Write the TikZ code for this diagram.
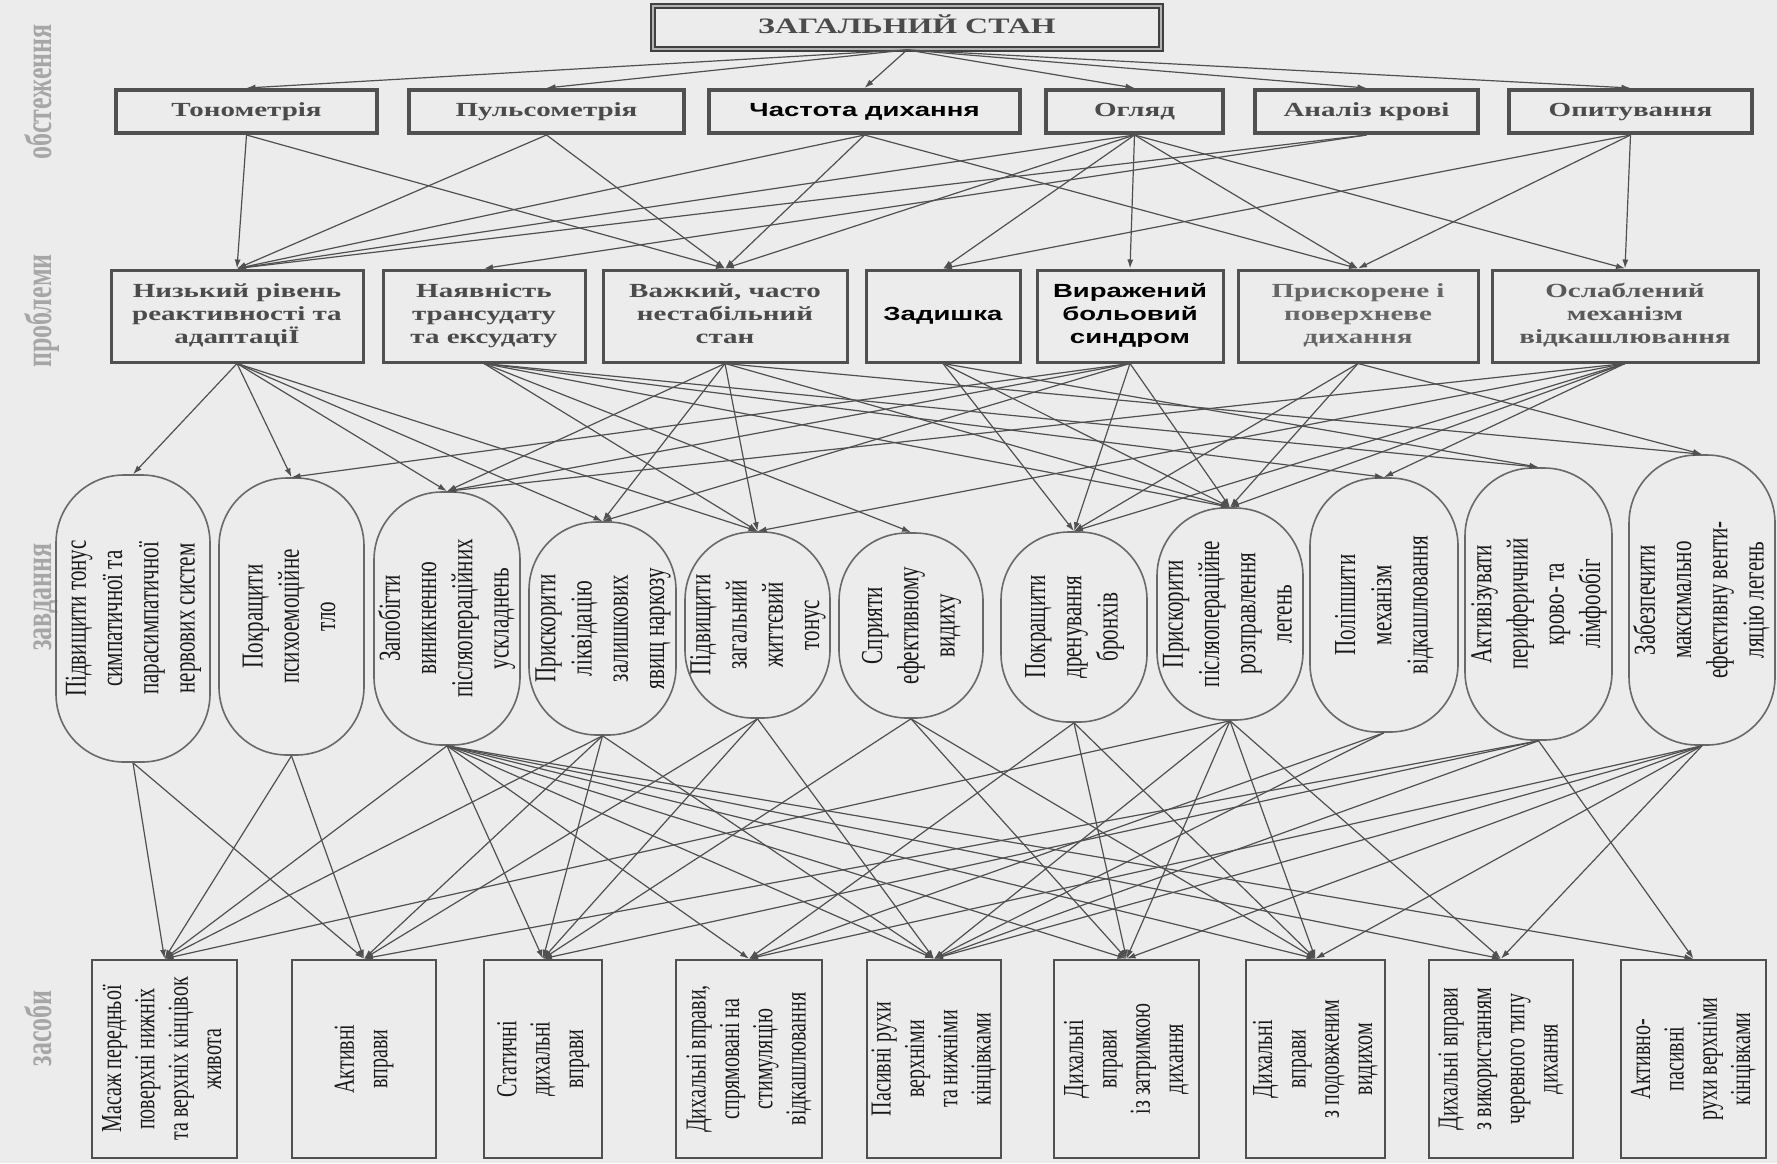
\documentclass[tikz,border=0pt]{standalone}
\usepackage{graphicx}
\usepackage{fontspec}
\setmainfont{Liberation Serif}
\newfontfamily\sansb{Liberation Sans}
\usetikzlibrary{arrows.meta}
\definecolor{bgc}{RGB}{236,236,236}
\definecolor{lnc}{RGB}{80,80,80}
\definecolor{txc}{RGB}{75,75,75}
\definecolor{bdc}{RGB}{80,80,80}
\definecolor{stc}{RGB}{105,105,105}
\newcommand\hst[1]{\scalebox{1.45}[1]{\begin{tabular}{@{}c@{}}#1\end{tabular}}}
\newcommand\vst[1]{\rotatebox{90}{\scalebox{1}[1.45]{\begin{tabular}{@{}c@{}}#1\end{tabular}}}}
\begin{document}
\begin{tikzpicture}[x=0.5pt,y=-0.5pt,
 titbox/.style={draw=black!75, line width=0.9pt, double=black!30, double distance=1pt, inner sep=0pt, text=txc, font=\fontsize{11}{12}\selectfont\bfseries},
 obsbox/.style={draw=bdc, line width=2pt, minimum height=21.5pt, inner sep=0pt, text=txc, font=\fontsize{10}{11.5}\selectfont\bfseries},
 probbox/.style={draw=bdc, line width=1.5pt, minimum height=46pt, inner sep=0pt, text=txc, font=\fontsize{10}{11.5}\selectfont\bfseries},
 blk/.style={text=black, font=\sansb\fontsize{9.5}{11.5}\selectfont\bfseries},
 taskbox/.style={draw=stc, line width=0.8pt, rounded corners=34pt, inner sep=0pt, text=black!90, font=\fontsize{10.5}{12.5}\selectfont},
 toolbox/.style={draw=bdc, line width=1.3pt, minimum height=99pt, inner sep=0pt, text=black!90, font=\fontsize{10}{11.5}\selectfont},
 sidelab/.style={text=black!35, font=\fontsize{13}{15}\selectfont\bfseries, inner sep=0pt},
 conn/.style={draw=lnc, line width=0.6pt, -{Latex[length=4.5pt,width=3pt]}}
]
\fill[bgc] (0,0) rectangle (1777,1163);
\useasboundingbox (0,0) rectangle (1777,1163);

% side labels
\node[sidelab] (l1) at (43,92) {\vst{обстеження}};
\node[sidelab] (l2) at (43,311) {\vst{проблеми}};
\node[sidelab] (l3) at (43,597) {\vst{завдання}};
\node[sidelab] (l4) at (43,1028) {\vst{засоби}};

% title
\node[titbox, minimum width=254pt, minimum height=21.5pt] (tit) at (907,27.5) {\hst{ЗАГАЛЬНИЙ СТАН}};

% row 1
\node[obsbox, minimum width=130.5pt] (o1) at (246.5,111.5) {\hst{Тонометрія}};
\node[obsbox, minimum width=137.5pt] (o2) at (546.5,111.5) {\hst{Пульсометрія}};
\node[obsbox, blk, minimum width=155.5pt] (o3) at (864.5,111.5) {\hst{Частота дихання}};
\node[obsbox, minimum width=88.5pt] (o4) at (1134.5,111.5) {\hst{Огляд}};
\node[obsbox, minimum width=111.5pt] (o5) at (1366.5,111.5) {\hst{Аналіз крові}};
\node[obsbox, minimum width=121.5pt] (o6) at (1630.5,111.5) {\hst{Опитування}};

% row 2
\node[probbox, minimum width=126pt] (p1) at (237,316) {\hst{Низький рівень\\реактивності та\\адаптаціЇ}};
\node[probbox, minimum width=101pt] (p2) at (484,316) {\hst{Наявність\\трансудату\\та ексудату}};
\node[probbox, minimum width=122pt] (p3) at (725,316) {\hst{Важкий, часто\\нестабільний\\стан}};
\node[probbox, blk, minimum width=77pt] (p4) at (943,316) {\hst{Задишка}};
\node[probbox, blk, minimum width=93pt] (p5) at (1130,316) {\hst{Виражений\\больовий\\синдром}};
\node[probbox, text=black!60, minimum width=120pt] (p6) at (1358,316) {\hst{Прискорене і\\поверхневе\\дихання}};
\node[probbox, text=black!65, minimum width=133pt] (p7) at (1625,316) {\hst{Ослаблений\\механізм\\відкашлювання}};

% row 3
\node[taskbox, minimum width=77pt, minimum height=143.5pt] (t1) at (133,618.5) {\vst{Підвищити тонус\\симпатичної та\\парасимпатичної\\нервових систем}};
\node[taskbox, minimum width=72.5pt, minimum height=138.5pt] (t2) at (291.5,616.5) {\vst{Покращити\\психоемоційне\\тло}};
\node[taskbox, minimum width=73pt, minimum height=126.5pt] (t3) at (447,618.5) {\vst{Запобігти\\виникненню\\післяопераційних\\ускладнень}};
\node[taskbox, minimum width=73.5pt, minimum height=106.5pt] (t4) at (602.5,628.5) {\vst{Прискорити\\ліквідацію\\залишкових\\явищ наркозу}};
\node[taskbox, minimum width=72.5pt, minimum height=93pt] (t5) at (757.5,625) {\vst{Підвищити\\загальний\\життєвий\\тонус}};
\node[taskbox, minimum width=72pt, minimum height=92.5pt] (t6) at (911,625.5) {\vst{Сприяти\\ефективному\\видиху}};
\node[taskbox, minimum width=73pt, minimum height=95pt] (t7) at (1074,627) {\vst{Покращити\\дренування\\бронхів}};
\node[taskbox, minimum width=73pt, minimum height=106pt] (t8) at (1230,614) {\vst{Прискорити\\післяопераційне\\розправлення\\легень}};
\node[taskbox, minimum width=74pt, minimum height=127pt] (t9) at (1384,605) {\vst{Поліпшити\\механізм\\відкашлювання}};
\node[taskbox, minimum width=73.5pt, minimum height=136pt] (t10) at (1538.5,604) {\vst{Активізувати\\периферичний\\крово- та\\лімфообіг}};
\node[taskbox, minimum width=73pt, minimum height=145pt] (t11) at (1702,600) {\vst{Забезпечити\\максимально\\ефективну венти-\\ляцію легень}};

% row 4
\node[toolbox, minimum width=72.5pt] (m1) at (164.5,1059) {\vst{Масаж передньої\\поверхні нижніх\\та верхніх кінцівок\\живота}};
\node[toolbox, minimum width=72pt] (m2) at (364,1059) {\vst{Активні\\вправи}};
\node[toolbox, minimum width=59pt] (m3) at (543,1059) {\vst{Статичні\\дихальні\\вправи}};
\node[toolbox, minimum width=73pt] (m4) at (749,1059) {\vst{Дихальні вправи,\\спрямовані на\\стимуляцію\\відкашлювання}};
\node[toolbox, minimum width=67pt] (m5) at (934,1059) {\vst{Пасивні рухи\\верхніми\\та нижніми\\кінцівками}};
\node[toolbox, minimum width=72.5pt] (m6) at (1126.5,1059) {\vst{Дихальні\\вправи\\із затримкою\\дихання}};
\node[toolbox, minimum width=69.5pt] (m7) at (1315.5,1059) {\vst{Дихальні\\вправи\\з подовженим\\видихом}};
\node[toolbox, minimum width=72pt] (m8) at (1501,1059) {\vst{Дихальні вправи\\з використанням\\черевного типу\\дихання}};
\node[toolbox, minimum width=72.5pt] (m9) at (1693.5,1059) {\vst{Активно-\\пасивні\\рухи верхніми\\кінцівками}};

% connectors
\foreach \a/\b in {tit/o1,tit/o2,tit/o3,tit/o4,tit/o5,tit/o6,
  o1/p1,o1/p3,o2/p1,o2/p3,o3/p1,o3/p3,o3/p6,
  o4/p1,o4/p3,o4/p4,o4/p5,o4/p6,o4/p7,o5/p1,o5/p2,
  o6/p4,o6/p6,o6/p7,
  p1/t1,p1/t2,p1/t3,p1/t4,p1/t5,
  p2/t5,p2/t6,p2/t8,p2/t9,p2/t10,
  p3/t3,p3/t4,p3/t5,p3/t8,p3/t11,
  p4/t7,p4/t8,p4/t10,
  p5/t2,p5/t3,p5/t4,p5/t7,p5/t8,
  p6/t7,p6/t8,p6/t11,
  p7/t3,p7/t5,p7/t7,p7/t8,p7/t9,
  t1/m1,t1/m2,t2/m1,t2/m2,
  t3/m1,t3/m3,t3/m4,t3/m5,t3/m6,t3/m7,t3/m8,t3/m9,
  t4/m1,t4/m2,t4/m3,t4/m5,
  t5/m2,t5/m3,t5/m5,
  t6/m3,t6/m6,t6/m7,
  t7/m4,t7/m6,t7/m7,
  t8/m1,t8/m5,t8/m6,t8/m7,t8/m8,
  t9/m4,t9/m5,
  t10/m2,t10/m3,t10/m5,t10/m9,
  t11/m4,t11/m5,t11/m6,t11/m7,t11/m8}
  \draw[conn] (\a.south) -- (\b.north);
\end{tikzpicture}
\end{document}
